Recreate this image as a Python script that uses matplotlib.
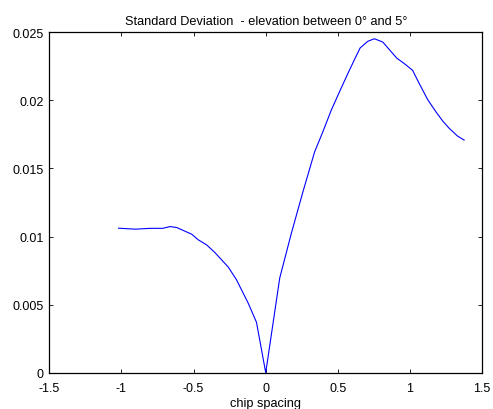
import numpy as np
from matplotlib import pyplot as plt

plt.rcParams['font.family'] = ['Liberation Sans', 'DejaVu Sans']

# values
chip = [-1.02, -0.905, -0.80, -0.714, -0.663, -0.617, -0.513, -0.468, -0.41, -0.353,
        -0.26, -0.203, -0.122, -0.064, 0.0, 0.097, 0.178, 0.258, 0.339, 0.396,
        0.454, 0.511, 0.569, 0.615, 0.654, 0.707, 0.753, 0.811, 0.857, 0.908,
        0.961, 1.018, 1.064, 1.122, 1.18, 1.226, 1.272, 1.33, 1.375]
std = [0.01061, 0.01054, 0.0106, 0.0106, 0.01073, 0.01066, 0.01017, 0.00976, 0.00939, 0.00883,
       0.00776, 0.00683, 0.00512, 0.0037, 0.0, 0.00695, 0.01025, 0.01329, 0.01622, 0.01769,
       0.01927, 0.02062, 0.02196, 0.02299, 0.02384, 0.02433, 0.02452, 0.02428, 0.02372, 0.0231,
       0.02269, 0.0222, 0.02123, 0.02006, 0.01915, 0.01849, 0.01794, 0.01737, 0.01708]
xticks = [-1.5, -1, -0.5, 0, 0.5, 1, 1.5]
xticklabels = ['-1.5', '-1', '-0.5', '0', '0.5', '1', '1.5']
yticks = [0, 0.005, 0.01, 0.015, 0.02, 0.025]
yticklabels = ['0', '0.005', '0.01', '0.015', '0.02', '0.025']

fig = plt.figure(figsize=(4.93, 4.10), dpi=100)
ax = fig.add_axes([0.1, 0.0885, 0.878, 0.8305])
ax.plot(chip, std, color='#0000ff', linewidth=0.8)
ax.set_xlim(-1.5, 1.5)
ax.set_ylim(0, 0.025)
ax.set_xticks(xticks)
ax.set_xticklabels(xticklabels)
ax.set_yticks(yticks)
ax.set_yticklabels(yticklabels)
ax.tick_params(direction='in', top=True, right=True, labelsize=9, length=3, width=0.6)
ax.tick_params(axis='x', pad=7)
ax.tick_params(axis='y', pad=4)
for s in ax.spines.values():
    s.set_linewidth(0.9)
ax.set_title('Standard Deviation  - elevation between 0\u00b0 and 5\u00b0', fontsize=9.2, pad=6)
ax.set_xlabel('chip spacing', fontsize=9.2, labelpad=2)
fig.savefig('out.png', dpi=100)
